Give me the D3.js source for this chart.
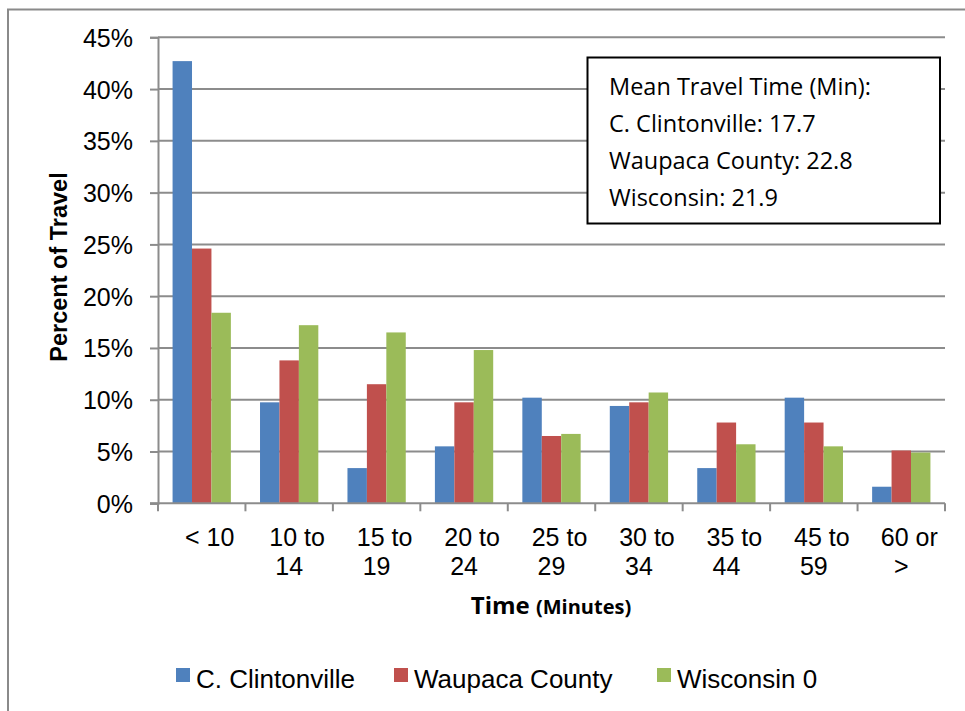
<!DOCTYPE html>
<html>
<head>
<meta charset="utf-8">
<script src="https://cdn.jsdelivr.net/npm/d3@7/dist/d3.min.js"></script>
<style>
	body { margin: 0; background: #fff; }
	svg { display: block; }
	.tick-text { font-family: "Liberation Sans", Arial, sans-serif; font-size: 25px; fill: #000; }
</style>
</head>
<body>
<svg id="chart" width="965" height="711"></svg>
<script>
// datos del gráfico
var categories = ["< 10", "10 to 14", "15 to 19", "20 to 24", "25 to 29", "30 to 34", "35 to 44", "45 to 59", "60 or >"];
var categoryLines = [["< 10"], ["10 to", "14"], ["15 to", "19"], ["20 to", "24"], ["25 to", "29"], ["30 to", "34"], ["35 to", "44"], ["45 to", "59"], ["60 or", ">"]];
var seriesNames = ["C. Clintonville", "Waupaca County", "Wisconsin 0"];
var clintonville = [0.427, 0.0975, 0.034, 0.055, 0.102, 0.094, 0.034, 0.102, 0.016];
var waupaca = [0.246, 0.138, 0.115, 0.0975, 0.065, 0.0975, 0.078, 0.078, 0.051];
var wisconsin = [0.184, 0.172, 0.165, 0.148, 0.067, 0.107, 0.057, 0.055, 0.049];
var yTicks = [0, 0.05, 0.10, 0.15, 0.20, 0.25, 0.30, 0.35, 0.40, 0.45];
var boxLines = ["Mean Travel Time (Min):", "C. Clintonville: 17.7", "Waupaca County: 22.8", "Wisconsin: 21.9"];

var colors = ["#4F81BD", "#C0504D", "#9BBB59"];
var seriesValues = [clintonville, waupaca, wisconsin];

(function() {

	var svg = d3.select("#chart");

	// borde exterior
	svg.append("rect")
		.attr("x", 8).attr("y", 9.5)
		.attr("width", 1000).attr("height", 1000)
		.attr("fill", "none")
		.attr("stroke", "#8a8a8a")
		.attr("stroke-width", 2);

	var plotLeft = 158, plotRight = 945, plotTop = 37.3, plotBottom = 503.3;

	var x = d3.scaleBand().domain(categories).range([plotLeft, plotRight]).paddingInner(0).paddingOuter(0);
	var x1 = d3.scaleBand().domain(seriesNames).range([0, x.bandwidth()]).paddingInner(0).paddingOuter(0.75);
	var y = d3.scaleLinear().domain([0, 0.45]).range([plotBottom, plotTop]);

	// rejilla
	svg.append("g")
		.selectAll("line")
		.data(yTicks.slice(1))
		.enter().append("line")
			.attr("x1", plotLeft).attr("x2", plotRight)
			.attr("y1", function(d) { return y(d); })
			.attr("y2", function(d) { return y(d); })
			.attr("stroke", "#8c8c8c")
			.attr("stroke-width", 2);

	// barras
	var rows = categories.map(function(c, i) {
		return seriesNames.map(function(s, j) {
			return {cat: c, series: s, value: seriesValues[j][i], color: colors[j]};
		});
	});

	svg.append("g")
		.selectAll("g")
		.data(rows)
		.enter().append("g")
			.attr("transform", function(d) { return "translate(" + x(d[0].cat) + ",0)"; })
		.selectAll("rect")
		.data(function(d) { return d; })
		.enter().append("rect")
			.attr("x", function(d) { return x1(d.series); })
			.attr("y", function(d) { return y(d.value); })
			.attr("width", x1.bandwidth())
			.attr("height", function(d) { return plotBottom - y(d.value); })
			.attr("fill", function(d) { return d.color; });

	// eje y
	var yAxis = svg.append("g")
		.attr("transform", "translate(" + plotLeft + ",0)")
		.call(d3.axisLeft(y).tickValues(yTicks).tickFormat(d3.format(".0%")).tickSize(8).tickPadding(17));

	yAxis.select(".domain").attr("stroke", "#8c8c8c").attr("stroke-width", 2);
	yAxis.selectAll(".tick line").attr("stroke", "#8c8c8c").attr("stroke-width", 2);
	yAxis.selectAll(".tick text")
		.attr("class", "tick-text")
		.attr("dy", "0.36em");
	yAxis.attr("font-family", null).attr("font-size", null);

	// eje x
	svg.append("line")
		.attr("x1", plotLeft - 8).attr("x2", plotRight)
		.attr("y1", plotBottom).attr("y2", plotBottom)
		.attr("stroke", "#8c8c8c").attr("stroke-width", 2);

	svg.append("g")
		.selectAll("line")
		.data(categories.concat(["end"]))
		.enter().append("line")
			.attr("x1", function(d) { return d === "end" ? plotRight : x(d); })
			.attr("x2", function(d) { return d === "end" ? plotRight : x(d); })
			.attr("y1", plotBottom).attr("y2", plotBottom + 8)
			.attr("stroke", "#8c8c8c").attr("stroke-width", 2);

	var xLabels = svg.append("g")
		.selectAll("text")
		.data(categories)
		.enter().append("text")
			.attr("class", "tick-text")
			.attr("text-anchor", "middle")
			.attr("transform", function(d) { return "translate(" + (x(d) + x.bandwidth() / 2) + ",546)"; });

	// la primera línea queda algo desplazada a la derecha, como en el original
	xLabels.selectAll("tspan")
		.data(function(d, i) { return categoryLines[i]; })
		.enter().append("tspan")
			.attr("x", function(d, i) { return i === 0 ? 8 : 0; })
			.attr("y", function(d, i) { return i * 29; })
			.text(function(d) { return d; });

	// títulos de ejes
	svg.append("text")
		.attr("transform", "translate(67,267) rotate(-90)")
		.attr("text-anchor", "middle")
		.attr("font-family", "Liberation Sans, Arial, sans-serif")
		.attr("font-weight", "bold")
		.attr("font-size", 23.5)
		.text("Percent of Travel");

	var xTitle = svg.append("text")
		.attr("x", 551).attr("y", 614)
		.attr("text-anchor", "middle")
		.attr("font-family", "Open Sans, sans-serif")
		.attr("font-weight", "bold");
	xTitle.append("tspan").attr("font-size", 24).text("Time ");
	xTitle.append("tspan").attr("font-size", 20).text("(Minutes)");

	// cuadro de texto
	svg.append("rect")
		.attr("x", 587.5).attr("y", 57.5)
		.attr("width", 352.5).attr("height", 166)
		.attr("fill", "#fff")
		.attr("stroke", "#000")
		.attr("stroke-width", 2);

	svg.append("g")
		.selectAll("text")
		.data(boxLines)
		.enter().append("text")
			.attr("x", 609)
			.attr("y", function(d, i) { return 95 + i * 37; })
			.attr("font-family", "Open Sans, sans-serif")
			.attr("font-size", 23.5)
			.text(function(d) { return d; });

	// leyenda
	var legendX = [176, 394, 657];
	var legend = svg.append("g")
		.selectAll("g")
		.data(seriesNames)
		.enter().append("g")
			.attr("transform", function(d, i) { return "translate(" + legendX[i] + ",668)"; });

	legend.append("rect")
		.attr("width", 14).attr("height", 14)
		.attr("fill", function(d, i) { return colors[i]; });

	legend.append("text")
		.attr("class", "tick-text")
		.attr("x", 20).attr("y", 20)
		.attr("font-size", 26)
		.style("font-size", "26px")
		.text(function(d) { return d; });
})();
</script>
</body>
</html>
